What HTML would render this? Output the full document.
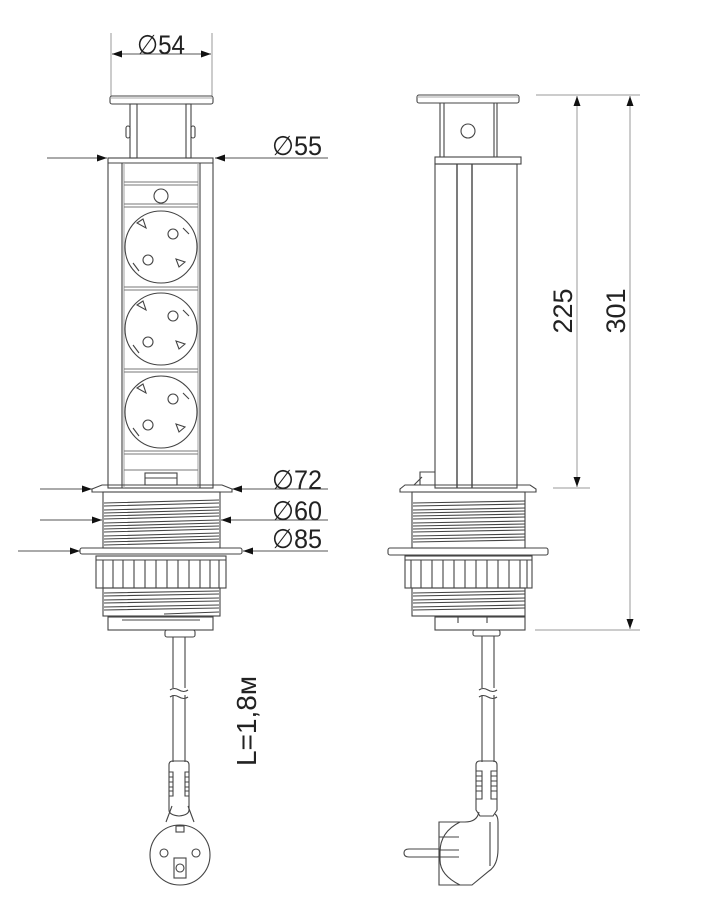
<!DOCTYPE html>
<html><head><meta charset="utf-8"><style>
html,body{margin:0;padding:0;background:#fff;}
svg{display:block;}
text{font-family:"Liberation Sans","DejaVu Sans",sans-serif;fill:#222;}
</style></head><body>
<svg width="704" height="903" viewBox="0 0 704 903" xmlns="http://www.w3.org/2000/svg">
<defs>
<marker id="a" viewBox="0 0 10 10" refX="10" refY="5" markerWidth="12" markerHeight="10" markerUnits="userSpaceOnUse" orient="auto-start-reverse"><path d="M0,1.5 L10,5 L0,8.5z" fill="#111"/></marker>
</defs>
<g fill="none" stroke="#999" stroke-width="1">
<line x1="111" y1="33" x2="111" y2="96"/><line x1="212" y1="33" x2="212" y2="96"/>
<line x1="112" y1="54" x2="211" y2="54" marker-start="url(#a)" marker-end="url(#a)" stroke="#555"/>
<line x1="47" y1="158" x2="107" y2="158" marker-end="url(#a)" stroke="#555"/>
<line x1="328" y1="158" x2="215" y2="158" marker-end="url(#a)" stroke="#555"/>
<line x1="40" y1="489" x2="92" y2="489" marker-end="url(#a)" stroke="#555"/>
<line x1="328" y1="489" x2="232" y2="489" marker-end="url(#a)" stroke="#555"/>
<line x1="40" y1="520" x2="102" y2="520" marker-end="url(#a)" stroke="#555"/>
<line x1="328" y1="520" x2="221" y2="520" marker-end="url(#a)" stroke="#555"/>
<line x1="18" y1="551" x2="80" y2="551" marker-end="url(#a)" stroke="#555"/>
<line x1="328" y1="551" x2="243" y2="551" marker-end="url(#a)" stroke="#555"/>
<line x1="536" y1="95" x2="640" y2="95"/>
<line x1="553" y1="488" x2="590" y2="488"/>
<line x1="535" y1="630" x2="640" y2="630"/>
<line x1="577" y1="96" x2="577" y2="487" marker-start="url(#a)" marker-end="url(#a)"/>
<line x1="630" y1="96" x2="630" y2="629" marker-start="url(#a)" marker-end="url(#a)"/>
</g>
<g font-size="27">
<text x="137" y="54" textLength="48" lengthAdjust="spacingAndGlyphs">∅54</text>
<text x="272" y="155" textLength="50" lengthAdjust="spacingAndGlyphs">∅55</text>
<text x="272" y="489" textLength="50" lengthAdjust="spacingAndGlyphs">∅72</text>
<text x="272" y="520" textLength="50" lengthAdjust="spacingAndGlyphs">∅60</text>
<text x="272" y="548" textLength="50" lengthAdjust="spacingAndGlyphs">∅85</text>
<text transform="translate(572,311) rotate(-90)" text-anchor="middle">225</text>
<text transform="translate(625,311) rotate(-90)" text-anchor="middle">301</text>
<text transform="translate(256,721) rotate(-90)" text-anchor="middle" font-size="28">L=1,8м</text>
</g>

<g fill="none" stroke="#444" stroke-width="1.1">
<rect x="110" y="96" width="103" height="8" rx="2"/>
<line x1="110" y1="98" x2="213" y2="98" stroke="#aaa"/>
<rect x="130" y="104" width="7" height="54"/><rect x="186" y="104" width="5" height="54"/>
<rect x="126" y="126" width="4" height="12" rx="2"/><rect x="191" y="126" width="4" height="12" rx="2"/>
<rect x="108" y="158" width="105" height="330"/>
<line x1="108" y1="163" x2="213" y2="163"/>
<line x1="122" y1="163" x2="122" y2="488"/><line x1="124" y1="163" x2="124" y2="488" stroke="#aaa"/>
<line x1="200" y1="163" x2="200" y2="488"/><line x1="198" y1="163" x2="198" y2="488" stroke="#aaa"/>
<g stroke="#777">
<line x1="124" y1="182" x2="198" y2="182"/><line x1="124" y1="185" x2="198" y2="185"/>
<line x1="124" y1="204" x2="198" y2="204"/><line x1="124" y1="207" x2="198" y2="207"/>
<line x1="124" y1="287" x2="198" y2="287"/><line x1="124" y1="290" x2="198" y2="290"/>
<line x1="124" y1="369" x2="198" y2="369"/><line x1="124" y1="372" x2="198" y2="372"/>
<line x1="124" y1="451" x2="198" y2="451"/><line x1="124" y1="454" x2="198" y2="454"/>
<line x1="124" y1="470" x2="198" y2="470"/>
</g>
<circle cx="161" cy="196" r="7"/>
<g id="s">
<circle cx="161" cy="247" r="36"/>
<circle cx="173" cy="234" r="5"/><circle cx="148" cy="260" r="5"/>
<path d="M137,223 l6,-4 l3,9 z M179,267 l6,-5 l-9,-3 z M183,228 l6,6 M133,263 l6,8"/>
</g>
<use href="#s" y="82"/><use href="#s" y="165"/>
<rect x="145" y="473" width="32" height="12"/><line x1="145" y1="478" x2="177" y2="478"/>
<path d="M92,489 L102,485 L222,485 L232,489 L232,492 L92,492 Z"/>
<rect x="103" y="492" width="117" height="56"/>
<path d="M104,503 L219,500 M104,506 L219,503 M104,510 L219,507 M104,513 L219,510 M104,516 L219,513 M104,519 L219,516 M104,523 L219,520 M104,526 L219,523 M104,529 L219,526 M104,532 L219,529 M104,536 L219,533 M104,539 L219,536 M104,542 L219,539 M104,545 L219,542"/>
<rect x="80" y="548" width="162" height="6" rx="2"/>
<rect x="96" y="556" width="130" height="32"/>
<line x1="96" y1="560" x2="226" y2="560"/>
<path d="M103,560 V588 M113,560 V588 M123,560 V588 M134,560 V588 M145,560 V588 M156,560 V588 M167,560 V588 M178,560 V588 M189,560 V588 M200,560 V588 M210,560 V588 M219,560 V588"/>
<rect x="103" y="588" width="117" height="28"/>
<path d="M104,593 L219,591 M104,596 L219,594 M104,600 L219,598 M104,603 L219,601 M104,607 L219,605 M104,610 L219,608 M164,614 L219,612"/>
<rect x="108" y="617" width="105" height="13"/><line x1="122" y1="620" x2="200" y2="620"/>
<rect x="165" y="630" width="30" height="7" rx="2"/>
<path d="M173,637 V688 M185,637 V688 M173,695 V762 M185,695 V762"/>
<path d="M170,690 q4,-3 9,0 t9,0 M170,697 q4,-3 9,0 t9,0"/>
<path d="M169,765 q0,-4 4,-4 h12 q4,0 4,4 V810 q0,5 -10,6 q-10,-1 -10,-6 Z"/>
<path d="M169,772 h4 v24 h-4 M189,772 h-4 v24 h4 M169,777 h4 M169,782 h4 M169,787 h4 M169,791 h4 M185,777 h4 M185,782 h4 M185,787 h4 M185,791 h4"/>
<path d="M166,822 L172,806 M194,822 L188,806"/>
<circle cx="180" cy="855" r="30"/>
<rect x="176" y="826" width="8" height="6"/>
<rect x="174" y="858" width="12" height="20"/><circle cx="180" cy="868" r="4"/>
<circle cx="164" cy="853" r="4"/><circle cx="196" cy="853" r="4"/>
</g>

<g fill="none" stroke="#444" stroke-width="1.1">
<rect x="417" y="95" width="102" height="8" rx="2"/>
<line x1="417" y1="97" x2="519" y2="97" stroke="#aaa"/>
<path d="M440,103 V157 M444,103 V157 M494,103 V157 M497,103 V157"/>
<circle cx="468" cy="131" r="7"/>
<rect x="435" y="157" width="86" height="7"/>
<rect x="435" y="164" width="82" height="324"/>
<line x1="457" y1="164" x2="457" y2="488" stroke-width="1.4"/><line x1="472" y1="164" x2="472" y2="488" stroke-width="1.4"/>
<path d="M420,485 V472 h15 M414,485 l8,-8"/>
<path d="M400,489 L405,485 L530,485 L536,489 L536,492 L400,492 Z"/>
<rect x="412" y="492" width="113" height="56"/>
<path d="M413,503 L525,501 M413,506 L525,504 M413,510 L525,508 M413,513 L525,511 M413,516 L525,514 M413,519 L525,517 M413,523 L525,521 M413,526 L525,524 M413,529 L525,527 M413,532 L525,530 M413,536 L525,534 M413,539 L525,537 M413,542 L525,540"/>
<rect x="388" y="548" width="160" height="7" rx="2"/>
<rect x="405" y="556" width="127" height="32"/>
<line x1="405" y1="560" x2="532" y2="560"/>
<path d="M411,560 V588 M421,560 V588 M432,560 V588 M443,560 V588 M454,560 V588 M465,560 V588 M476,560 V588 M487,560 V588 M498,560 V588 M509,560 V588 M520,560 V588 M527,560 V588"/>
<rect x="412" y="588" width="113" height="28"/>
<path d="M413,593 L525,591 M413,596 L525,594 M413,600 L525,598 M413,603 L525,601 M413,607 L525,605 M413,610 L525,608"/>
<rect x="435" y="617" width="90" height="13"/><path d="M458,617 V623 M487,617 V623"/>
<rect x="473" y="630" width="27" height="6" rx="2"/>
<path d="M482,636 V688 M494,636 V688 M482,695 V762 M494,695 V762"/>
<path d="M479,690 q4,-3 9,0 t9,0 M479,697 q4,-3 9,0 t9,0"/>
<path d="M476,765 q0,-4 4,-4 h13 q4,0 4,4 V810 l-4,6 h-13 l-4,-6 Z"/>
<path d="M476,771 h6 v28 h-6 M497,771 h-6 v28 h6 M476,776 h6 M476,781 h6 M476,786 h6 M476,791 h6 M491,776 h6 M491,781 h6 M491,786 h6 M491,791 h6"/>
<path d="M479,812 q-2,10 -14,10 h-26 V885 h33 l17,-14 h0 q9,-6 9,-22 V822 q0,-6 -3,-8"/>
<path d="M460,822 q-20,10 -20,30 V860 q0,15 20,25 M490,822 V866"/>
<path d="M439,837 h20 M439,850 h20 M439,857 h20"/>
<path d="M439,849 h-30 q-5,0 -5,4 q0,4 5,4 h30"/>
</g>
</svg>
</body></html>
